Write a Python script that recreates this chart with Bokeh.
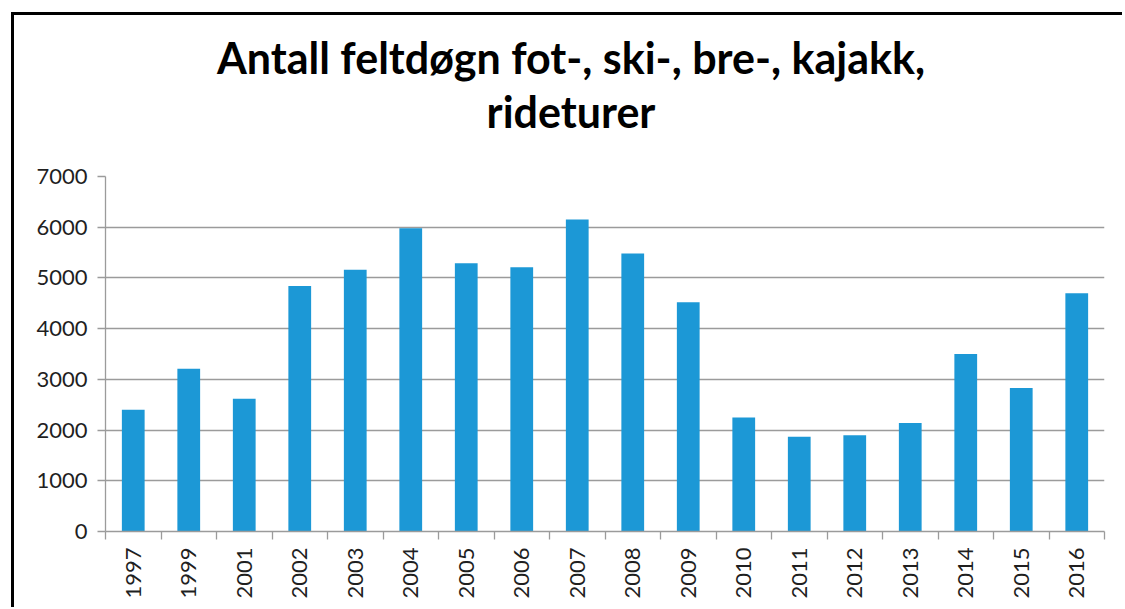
import math
from bokeh.plotting import figure
from bokeh.layouts import column
from bokeh.models import Range1d, FixedTicker, LinearAxis, Grid, ColumnDataSource, Div
from bokeh.embed import file_html
from bokeh.resources import INLINE

# ---- data ----
years = ["1997", "1999", "2001", "2002", "2003", "2004", "2005", "2006", "2007",
         "2008", "2009", "2010", "2011", "2012", "2013", "2014", "2015", "2016"]
values = [2400, 3210, 2620, 4840, 5160, 5980, 5290, 5210, 6150,
          5480, 4520, 2250, 1870, 1900, 2140, 3500, 2830, 4700]
y_ticks = [0, 1000, 2000, 3000, 4000, 5000, 6000, 7000]
title_lines = ["Antall feltdøgn fot-, ski-, bre-, kajakk,", "rideturer"]

FONT = "Lato"
BAR = "#1C98D6"
GRID = "#9b9b9b"
TXT = "#1f1f1f"

n = len(years)
centers = [i + 0.5 for i in range(n)]
bounds = list(range(n + 1))
src = ColumnDataSource(dict(x=centers, top=values, year=years))

title_div = Div(
    text=('<div style="display: block; box-sizing: border-box; width: 1108px;'
          ' font-family: Lato; font-weight: bold; font-size: 43px; color: #000;'
          ' text-align: center; line-height: 54px; padding-top: 16px; padding-left: 6px;'
          ' margin: 0; white-space: nowrap;">'
          + "<br>".join(title_lines) + "</div>"),
    width=1108, height=145, margin=0, styles={"width": "1108px"})

p = figure(width=1108, height=447, x_range=Range1d(0, n), y_range=Range1d(0, 7000),
           output_backend="svg", toolbar_location=None, title=None,
           x_axis_location=None, y_axis_location=None,
           min_border_left=91, min_border_right=18, min_border_top=16, min_border_bottom=76,
           outline_line_color=None, background_fill_color="white", border_fill_color="white",
           margin=0)

for r in list(p.center):
    r.visible = False

p.add_layout(Grid(dimension=1, ticker=FixedTicker(ticks=y_ticks),
                  grid_line_color=GRID, grid_line_width=1.3))

p.vbar(x="x", top="top", width=0.41, bottom=0, source=src,
       fill_color=BAR, line_color=None)

yaxis = LinearAxis(ticker=FixedTicker(ticks=y_ticks), axis_line_color=GRID, axis_line_width=1.3,
                   major_tick_line_color=GRID, major_tick_line_width=1.3,
                   major_tick_out=8, major_tick_in=0, minor_tick_line_color=None,
                   major_label_text_font=FONT, major_label_text_font_size="22px",
                   major_label_text_color=TXT, major_label_standoff=10)
p.add_layout(yaxis, "left")

tick_axis = LinearAxis(ticker=FixedTicker(ticks=bounds), axis_line_color=GRID, axis_line_width=1.3,
                       major_tick_line_color=GRID, major_tick_line_width=1.3,
                       major_tick_out=8, major_tick_in=0, minor_tick_line_color=None,
                       major_label_overrides={b: "" for b in bounds},
                       major_label_text_font_size="1px", major_label_standoff=0)
p.add_layout(tick_axis, "below")

label_axis = LinearAxis(ticker=FixedTicker(ticks=centers), axis_line_color=None,
                        major_tick_line_color=None, major_tick_out=0, major_tick_in=0,
                        minor_tick_line_color=None,
                        major_label_overrides={c: y for c, y in zip(centers, years)},
                        major_label_orientation=math.pi / 2,
                        major_label_text_font=FONT, major_label_text_font_size="22px",
                        major_label_text_color=TXT, major_label_standoff=8)
p.add_layout(label_axis, "below")

layout = column(title_div, p, spacing=0, margin=(12, 0, 0, 11))
layout.styles = {"border-left": "3px solid #000", "border-top": "3px solid #000",
                 "background-color": "white"}

open("out.html", "w").write(file_html(layout, INLINE))
